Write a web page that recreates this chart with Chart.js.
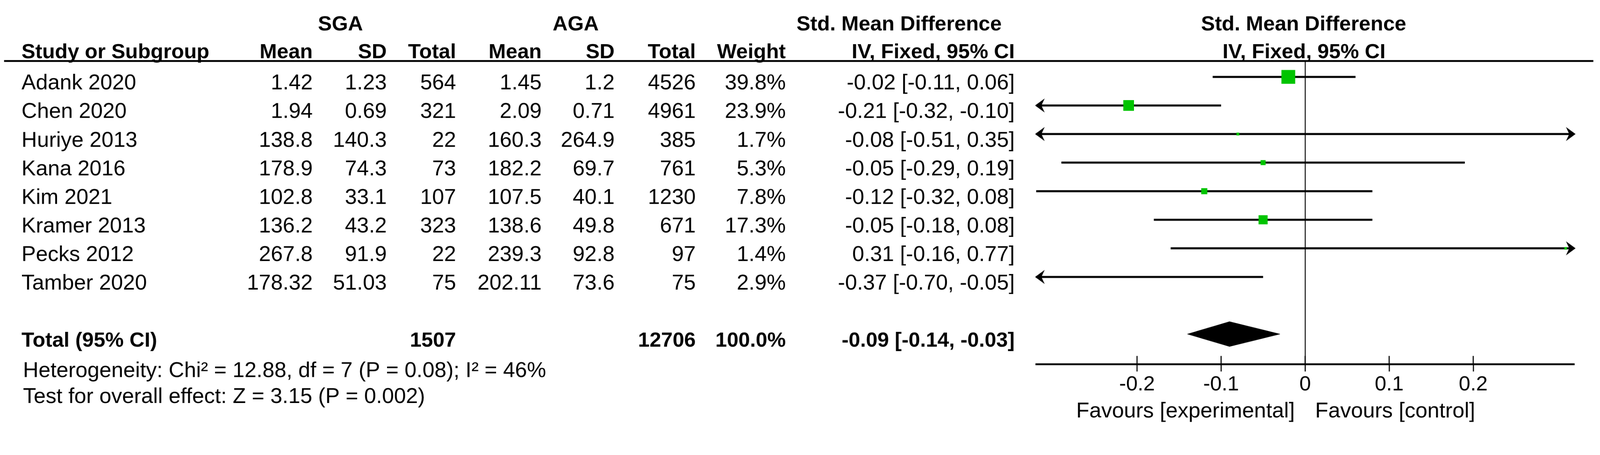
<!DOCTYPE html>
<html>
<head>
<meta charset="utf-8">
<script src="https://cdn.jsdelivr.net/npm/chart.js@4.4.1/dist/chart.umd.min.js"></script>
<style>
html,body{margin:0;padding:0;background:#fff;overflow:hidden;width:100%;height:100%}
#c{display:block;width:100vw !important;height:calc(100vw * 1164 / 4319) !important}
</style>
</head>
<body>
<canvas id="c" width="4319" height="1164"></canvas>
<script>
// ---------- data ----------
const studies   = ['Adank 2020','Chen 2020','Huriye 2013','Kana 2016','Kim 2021','Kramer 2013','Pecks 2012','Tamber 2020'];
const sgaMean   = ['1.42','1.94','138.8','178.9','102.8','136.2','267.8','178.32'];
const sgaSD     = ['1.23','0.69','140.3','74.3','33.1','43.2','91.9','51.03'];
const sgaTotal  = ['564','321','22','73','107','323','22','75'];
const agaMean   = ['1.45','2.09','160.3','182.2','107.5','138.6','239.3','202.11'];
const agaSD     = ['1.2','0.71','264.9','69.7','40.1','49.8','92.8','73.6'];
const agaTotal  = ['4526','4961','385','761','1230','671','97','75'];
const weight    = [39.8, 23.9, 1.7, 5.3, 7.8, 17.3, 1.4, 2.9];
const ciText    = ['-0.02 [-0.11, 0.06]','-0.21 [-0.32, -0.10]','-0.08 [-0.51, 0.35]','-0.05 [-0.29, 0.19]',
                   '-0.12 [-0.32, 0.08]','-0.05 [-0.18, 0.08]','0.31 [-0.16, 0.77]','-0.37 [-0.70, -0.05]'];
const smd       = [-0.02, -0.21, -0.08, -0.05, -0.12, -0.05, 0.31, -0.37];
const ciLow     = [-0.11, -0.325, -0.51, -0.29, -0.32, -0.18, -0.16, -0.70];
const ciHigh    = [0.06, -0.10, 0.35, 0.19, 0.08, 0.08, 0.77, -0.05];
const totalLabel = 'Total (95% CI)';
const totalSGA   = '1507';
const totalAGA   = '12706';
const totalWeight = '100.0%';
const totalCIText = '-0.09 [-0.14, -0.03]';
const pooled = -0.09, pooledLow = -0.14, pooledHigh = -0.03;
const xTicks = [-0.2, -0.1, 0, 0.1, 0.2];
const xRange = [-0.32, 0.32];
const heterogeneity = 'Heterogeneity: Chi\u00B2 = 12.88, df = 7 (P = 0.08); I\u00B2 = 46%';
const overallEffect = 'Test for overall effect: Z = 3.15 (P = 0.002)';
const favoursLeft = 'Favours [experimental]';
const favoursRight = 'Favours [control]';

// ---------- layout / style ----------
const TOTAL_ROW = 9;
const FONT = '"Liberation Sans", Arial, sans-serif';
const REG = '58px ' + FONT;
const BOLD = 'bold 56px ' + FONT;
const GREEN = '#00c400';
const SQUARE_K = 5.9;     // square side (px) per sqrt(weight)
const DIAMOND_H = 0.435;  // half height of pooled diamond in row units
const LINE_W = 5.5;

const colRight = {sgaMean:844, sgaSD:1044, sgaTotal:1231, agaMean:1462, agaSD:1659, agaTotal:1878, weight:2121, ci:2739};
const STUDY_X = 58;

const ciDatasets = studies.map((s, i) => ({
  type: 'scatter', label: s, showLine: true, order: 2,
  data: [{x: ciLow[i], y: i}, {x: ciHigh[i], y: i}],
  borderColor: '#000', borderWidth: LINE_W, pointRadius: 0, pointHoverRadius: 0
}));

const squareDataset = {
  type: 'scatter', label: 'SMD', order: 0,
  data: smd.map((v, i) => ({x: v, y: i})),
  pointStyle: 'rect',
  pointRadius: c => SQUARE_K * Math.sqrt(weight[c.dataIndex]) / Math.SQRT2,
  pointHoverRadius: c => SQUARE_K * Math.sqrt(weight[c.dataIndex]) / Math.SQRT2,
  backgroundColor: GREEN, borderWidth: 0
};

const diamondDataset = {
  type: 'scatter', label: 'Total', showLine: true, order: 1,
  data: [
    {x: pooledLow, y: TOTAL_ROW},
    {x: pooled, y: TOTAL_ROW - DIAMOND_H},
    {x: pooledHigh, y: TOTAL_ROW},
    {x: pooled, y: TOTAL_ROW + DIAMOND_H},
    {x: pooledLow, y: TOTAL_ROW}
  ],
  fill: 'shape', backgroundColor: '#000', borderColor: '#000', borderWidth: 1,
  pointRadius: 0, pointHoverRadius: 0, tension: 0
};

function arrow(ctx, xt, yc, dir) {
  ctx.beginPath();
  ctx.moveTo(xt, yc);
  ctx.lineTo(xt - dir * 26, yc - 19);
  ctx.lineTo(xt - dir * 17, yc);
  ctx.lineTo(xt - dir * 26, yc + 19);
  ctx.closePath();
  ctx.fill();
}

const forestPlugin = {
  id: 'forest',
  afterDatasetsDraw(chart) {
    const {ctx, scales: {x, y}} = chart;
    ctx.save();
    ctx.fillStyle = '#000';
    studies.forEach((s, i) => {
      const py = y.getPixelForValue(i);
      if (ciLow[i] < xRange[0]) arrow(ctx, x.getPixelForValue(xRange[0]) - 3, py, -1);
      if (ciHigh[i] > xRange[1]) arrow(ctx, x.getPixelForValue(xRange[1]) + 4, py, 1);
    });
    ctx.restore();
  },
  afterDraw(chart) {
    const {ctx, chartArea, scales: {x, y}} = chart;
    ctx.save();
    ctx.fillStyle = '#000';
    ctx.strokeStyle = '#000';
    // header rule
    ctx.fillRect(11, chartArea.top - 3, 4290, 5);
    // upper halves of axis tick marks
    ctx.lineWidth = 3;
    xTicks.forEach(v => {
      const px = x.getPixelForValue(v);
      ctx.beginPath();
      ctx.moveTo(px, chartArea.bottom - 22);
      ctx.lineTo(px, chartArea.bottom);
      ctx.stroke();
    });
    ctx.textBaseline = 'alphabetic';
    const t = (s, px, py, align, font) => { ctx.font = font; ctx.textAlign = align; ctx.fillText(s, px, py); };
    // headers row 1
    t('SGA', 919, 82, 'center', BOLD);
    t('AGA', 1554, 82, 'center', BOLD);
    t('Std. Mean Difference', 2150, 82, 'left', BOLD);
    const zeroPx = x.getPixelForValue(0);
    t('Std. Mean Difference', zeroPx - 4, 82, 'center', BOLD);
    // headers row 2
    const h2 = 157;
    t('Study or Subgroup', STUDY_X, h2, 'left', BOLD);
    t('Mean', colRight.sgaMean, h2, 'right', BOLD);
    t('SD', colRight.sgaSD, h2, 'right', BOLD);
    t('Total', colRight.sgaTotal, h2, 'right', BOLD);
    t('Mean', colRight.agaMean, h2, 'right', BOLD);
    t('SD', colRight.agaSD, h2, 'right', BOLD);
    t('Total', colRight.agaTotal, h2, 'right', BOLD);
    t('Weight', colRight.weight, h2, 'right', BOLD);
    t('IV, Fixed, 95% CI', colRight.ci, h2, 'right', BOLD);
    t('IV, Fixed, 95% CI', zeroPx - 3, h2, 'center', BOLD);
    // study rows
    studies.forEach((s, i) => {
      const py = y.getPixelForValue(i) + 34;
      t(s, STUDY_X, py, 'left', REG);
      t(sgaMean[i], colRight.sgaMean, py, 'right', REG);
      t(sgaSD[i], colRight.sgaSD, py, 'right', REG);
      t(sgaTotal[i], colRight.sgaTotal, py, 'right', REG);
      t(agaMean[i], colRight.agaMean, py, 'right', REG);
      t(agaSD[i], colRight.agaSD, py, 'right', REG);
      t(agaTotal[i], colRight.agaTotal, py, 'right', REG);
      t(weight[i].toFixed(1) + '%', colRight.weight, py, 'right', REG);
      t(ciText[i], colRight.ci, py, 'right', REG);
    });
    // total row
    const pt = y.getPixelForValue(TOTAL_ROW) + 34;
    t(totalLabel, STUDY_X, pt, 'left', BOLD);
    t(totalSGA, colRight.sgaTotal, pt, 'right', BOLD);
    t(totalAGA, colRight.agaTotal, pt, 'right', BOLD);
    t(totalWeight, colRight.weight, pt, 'right', BOLD);
    t(totalCIText, colRight.ci, pt, 'right', BOLD);
    // footnotes
    t(heterogeneity, STUDY_X + 4, 1017, 'left', REG);
    t(overallEffect, STUDY_X + 4, 1087, 'left', REG);
    // favours labels
    t(favoursLeft, zeroPx - 28, 1126, 'right', REG);
    t(favoursRight, zeroPx + 27, 1126, 'left', REG);
    ctx.restore();
  }
};

new Chart(document.getElementById('c'), {
  type: 'scatter',
  data: { datasets: [squareDataset, diamondDataset, ...ciDatasets] },
  options: {
    responsive: false,
    devicePixelRatio: 1,
    animation: false,
    events: [],
    layout: { padding: { left: 2797, right: 70, top: 165, bottom: 0 } },
    plugins: { legend: { display: false }, tooltip: { enabled: false }, title: { display: false } },
    scales: {
      x: {
        type: 'linear', position: 'bottom',
        min: xRange[0], max: xRange[1],
        afterBuildTicks: s => { s.ticks = xTicks.map(v => ({value: v})); },
        afterFit: s => { s.height = 182; },
        border: { display: true, color: '#000', width: 5 },
        grid: {
          display: true, drawOnChartArea: true, drawTicks: true,
          tickLength: 20, tickColor: '#000', tickWidth: 3,
          color: c => (c.tick && c.tick.value === 0) ? '#000' : 'rgba(0,0,0,0)',
          lineWidth: 2.5
        },
        ticks: {
          color: '#000', padding: 2, maxRotation: 0, autoSkip: false,
          font: { family: FONT, size: 56 },
          callback: v => String(v)
        }
      },
      y: {
        type: 'linear', display: false, reverse: true,
        min: -0.55, max: 10.05
      }
    }
  },
  plugins: [forestPlugin]
});
</script>
</body>
</html>
